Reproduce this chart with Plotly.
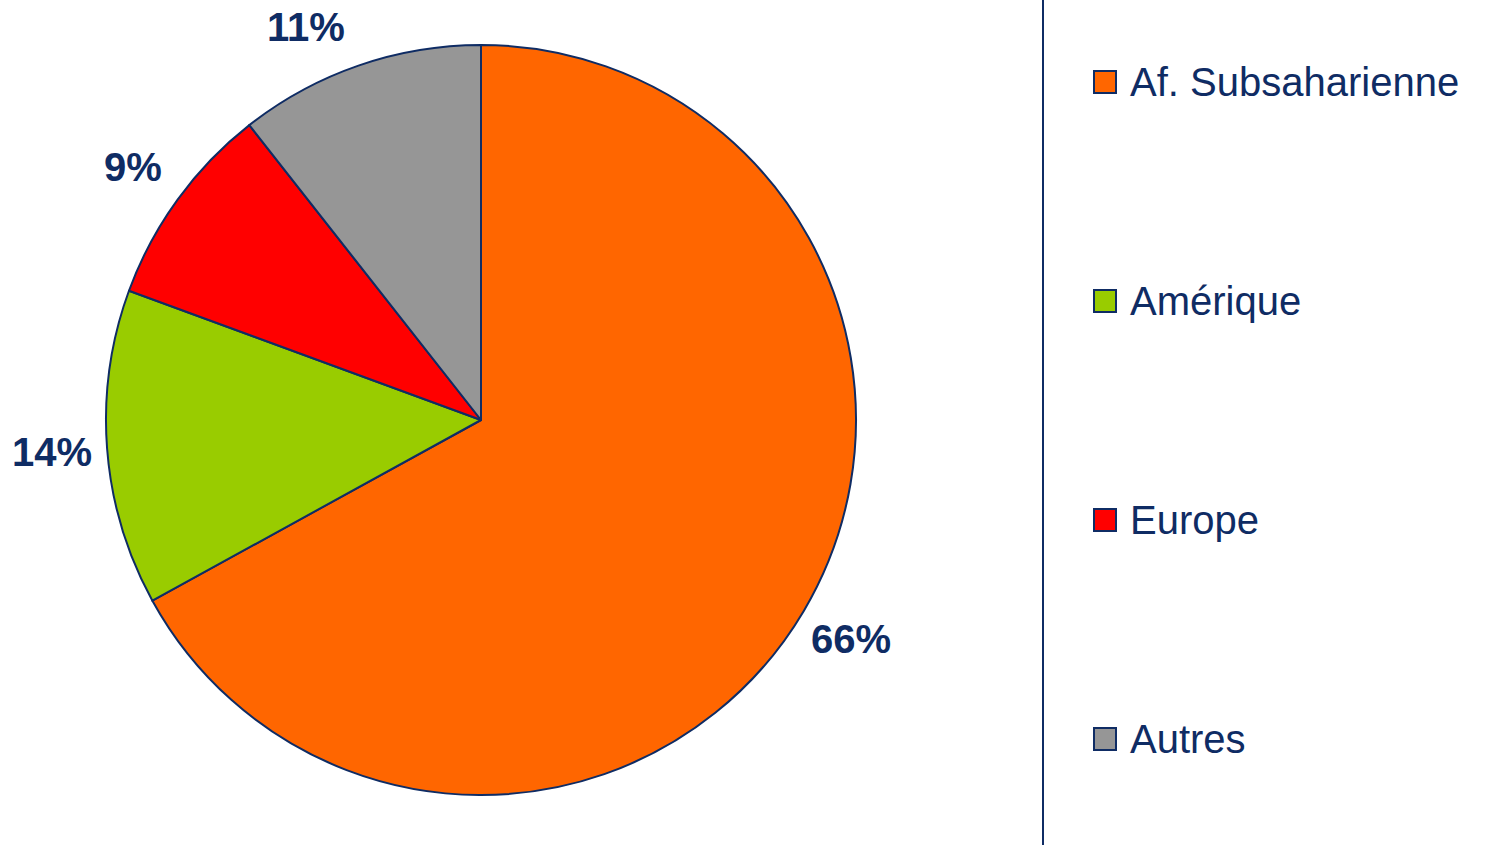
import math
import plotly.graph_objects as go

# regions and their share (slice sizes, labels as printed)
regions = ["Af. Subsaharienne", "Amérique", "Europe", "Autres"]
shares = [67.0, 13.6, 8.8, 10.6]
pct_labels = ["66%", "14%", "9%", "11%"]
colors = ["#FF6600", "#99CC00", "#FF0000", "#969696"]

navy = "#0F2C64"
W, H = 1493, 845
cx, cy, rad = 481, 420, 375

fig = go.Figure()
fig.add_trace(go.Pie(
    labels=regions, values=shares, sort=False, direction="clockwise", rotation=0,
    marker=dict(colors=colors, line=dict(color=navy, width=2)),
    textinfo="none",
    domain=dict(x=[(cx - rad) / W, (cx + rad) / W], y=[(H - cy - rad) / H, (H - cy + rad) / H]),
    showlegend=False, hoverinfo="label+percent",
))

# percentage labels set just outside each slice, at its mid angle,
# slid along the circle if they would fall off the top edge
total = sum(shares)
dist = rad + 55
top_min = 27
cum = 0
for s, lab in zip(shares, pct_labels):
    ang = 2 * math.pi * (cum + s / 2) / total
    cum += s
    lx = cx + dist * math.sin(ang)
    ly = cy - dist * math.cos(ang)
    if ly < top_min:
        ly = top_min
        lx = cx + math.copysign(math.sqrt(dist ** 2 - (cy - top_min) ** 2), math.sin(ang))
    fig.add_annotation(x=lx / W, y=(H - ly) / H, xref="paper", yref="paper", text=lab,
                       showarrow=False, xanchor="center", yanchor="middle",
                       font=dict(family="Liberation Sans", size=40, color=navy, weight="bold"))

# separator line
fig.add_shape(type="line", xref="paper", yref="paper", x0=1043 / W, x1=1043 / W, y0=0, y1=1,
              line=dict(color=navy, width=2))

# legend drawn by hand so entries can be spread out
legend_y = [82, 301, 520, 739]
for name, col, yy in zip(regions, colors, legend_y):
    fig.add_shape(type="rect", xref="paper", yref="paper",
                  x0=1094 / W, x1=1116 / W, y0=(H - yy - 11) / H, y1=(H - yy + 11) / H,
                  fillcolor=col, line=dict(color=navy, width=2))
    fig.add_annotation(x=1128 / W, y=(H - yy) / H, xref="paper", yref="paper",
                       text=name, showarrow=False, xanchor="left", yanchor="middle",
                       font=dict(family="Liberation Sans", size=40, color=navy))

fig.update_layout(width=W, height=H, margin=dict(l=0, r=0, t=0, b=0),
                  paper_bgcolor="white", plot_bgcolor="white")
# drop the page's default body margin so the figure sits at the window corner
fig.write_html("out.html", config={"displayModeBar": False},
               post_script="document.body.style.margin='0';")
